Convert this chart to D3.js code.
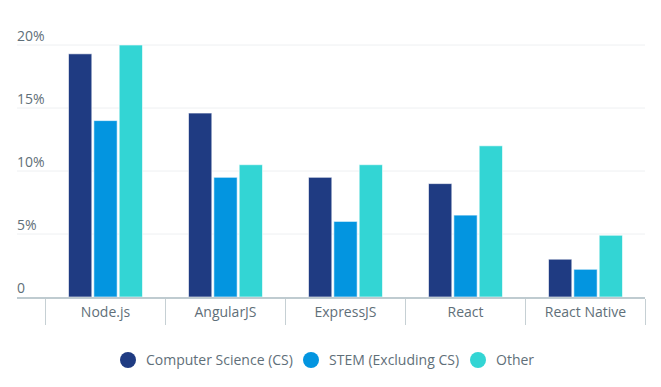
<!DOCTYPE html>
<html><head><meta charset="utf-8">
<script src="https://cdn.jsdelivr.net/npm/d3@7"></script>
<style>body{margin:0;background:#fff;} text{font-family:"Open Sans",sans-serif;}</style>
</head><body>
<svg id="c" width="661" height="387"></svg>
<script>
const categories = ["Node.js","AngularJS","ExpressJS","React","React Native"];
const seriesNames = ["Computer Science (CS)","STEM (Excluding CS)","Other"];
const csValues = [19.3,14.6,9.5,9.0,3.0];
const stemValues = [14.0,9.5,6.0,6.5,2.2];
const otherValues = [20.0,10.5,10.5,12.0,4.9];
const yTicks = [0,5,10,15,20];
const yTickLabels = ["0","5%","10%","15%","20%"];
const colors = ["#1f3b82","#0395e0","#33d5d4"];

const svg = d3.select("#c");
const pLeft = 45.5, pRight = 645.5, pTop = 45, pBottom = 297;
const x = d3.scaleBand().domain(categories).range([pLeft,pRight]).paddingInner(0).paddingOuter(0);
const xs = d3.scaleBand().domain(seriesNames).range([0,74]).paddingInner(0.08);
const y = d3.scaleLinear().domain([0,20]).range([pBottom,pTop]);

// gridlines
svg.append("g").selectAll("line").data(yTicks.filter(d=>d>0)).join("line")
  .attr("x1",17).attr("x2",645).attr("y1",d=>y(d)).attr("y2",d=>y(d))
  .attr("stroke","#eef0f2").attr("stroke-width",1);
// y labels
svg.append("g").selectAll("text").data(yTicks).join("text")
  .attr("x",17).attr("y",d=>y(d)-4.5).attr("font-size",14).attr("fill","#5f6f79")
  .text((d,i)=>yTickLabels[i]);

const data = seriesNames.map((s,i)=>({name:s, values:[csValues,stemValues,otherValues][i], color:colors[i]}));
const g = svg.append("g");
data.forEach(s=>{
  g.append("g").selectAll("rect").data(categories).join("rect")
    .attr("x",(c)=>x(c)+x.bandwidth()/2-37+xs(s.name))
    .attr("width",xs.bandwidth())
    .attr("y",(c,i)=>y(s.values[i]))
    .attr("height",(c,i)=>pBottom-y(s.values[i]))
    .attr("fill",s.color).attr("stroke","#ffffff").attr("stroke-opacity",0.6).attr("stroke-width",1);
});

// x axis
const xa = svg.append("g");
xa.append("line").attr("x1",17).attr("x2",645).attr("y1",pBottom+1).attr("y2",pBottom+1)
  .attr("stroke","#bfcbd0").attr("stroke-width",2);
const seps = categories.map(c=>x(c)).concat([pRight]);
xa.selectAll("line.t").data(seps).join("line").attr("class","t")
  .attr("x1",d=>d).attr("x2",d=>d).attr("y1",pBottom+2).attr("y2",pBottom+28)
  .attr("stroke","#c6d0d4").attr("stroke-width",1);
xa.selectAll("text").data(categories).join("text")
  .attr("x",d=>x(d)+x.bandwidth()/2).attr("y",317).attr("text-anchor","middle")
  .attr("font-size",14).attr("fill","#5f6f79").text(d=>d);

// legend
const legX = [128,311,478];
const lg = svg.append("g");
data.forEach((s,i)=>{
  lg.append("circle").attr("cx",legX[i]).attr("cy",360).attr("r",8).attr("fill",s.color);
  lg.append("text").attr("x",legX[i]+18).attr("y",365).attr("font-size",14).attr("fill","#5f6f79").text(s.name);
});
</script>
</body></html>
